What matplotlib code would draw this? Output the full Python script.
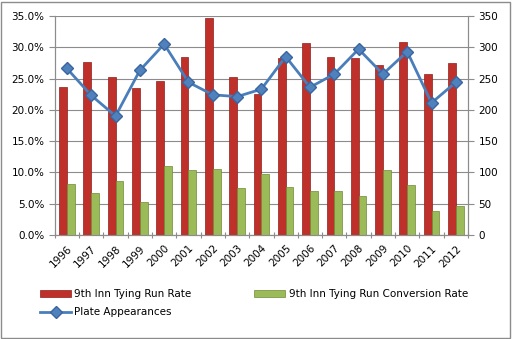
import matplotlib
matplotlib.use("Agg")
import matplotlib.pyplot as plt
import numpy as np
from matplotlib.patches import Rectangle
from matplotlib.ticker import FuncFormatter, MultipleLocator

years = [str(y) for y in range(1996, 2013)]
tying_rate = [23.6, 27.6, 25.2, 23.5, 24.6, 28.5, 34.6, 25.2, 22.6, 28.3,
              30.6, 28.4, 28.3, 27.1, 30.8, 25.7, 27.5]
conversion_rate = [8.1, 6.7, 8.6, 5.2, 11.0, 10.4, 10.5, 7.5, 9.8, 7.7,
                   7.1, 7.0, 6.2, 10.4, 8.0, 3.8, 4.6]
plate_appearances = [266, 223, 190, 263, 305, 244, 224, 221, 233, 285,
                     236, 257, 297, 257, 293, 211, 244]

plt.rcParams['font.family'] = ['DejaVu Sans']
fs = 7.5

fig = plt.figure(figsize=(5.12, 3.39), dpi=100)
fig.patches.append(Rectangle((0.002, 0.003), 0.994, 0.992, transform=fig.transFigure,
                             fill=False, edgecolor='#8c8c8c', linewidth=1))
ax = fig.add_axes([0.107, 0.307, 0.807, 0.646])
ax2 = ax.twinx()

x = np.arange(len(years))
w = 0.32
red_bars = ax.bar(x - w / 2, tying_rate, w, color='#c0302b', edgecolor='#8e1f1b',
                  linewidth=0.5, label='9th Inn Tying Run Rate', zorder=3)
green_bars = ax.bar(x + w / 2, conversion_rate, w, color='#9bbb59', edgecolor='#6f8b35',
                    linewidth=0.5, label='9th Inn Tying Run Conversion Rate', zorder=3)
line, = ax2.plot(x, plate_appearances, color='#4a7ebb', linewidth=2, marker='D',
                 markersize=6, markerfacecolor='#4f81bd', markeredgecolor='#3a65a0',
                 label='Plate Appearances', zorder=4)

ax.set_xlim(-0.5, len(years) - 0.5)
ax.set_ylim(0, 35)
ax2.set_ylim(0, 350)
ax.yaxis.set_major_locator(MultipleLocator(5))
ax.yaxis.set_major_formatter(FuncFormatter(lambda v, p: f"{v:.1f}%"))
ax2.yaxis.set_major_locator(MultipleLocator(50))
ax.grid(axis='y', color='#8c8c8c', linewidth=0.8, zorder=0)
ax.set_axisbelow(True)

ax.set_xticks(np.arange(-0.5, len(years), 1), minor=False)
ax.set_xticklabels([])
ax.set_xticks(x, minor=True)
ax.set_xticklabels(years, minor=True, rotation=45, ha='right', rotation_mode='anchor',
                   fontsize=fs)
ax.tick_params(axis='x', which='minor', length=0, pad=6)
ax.tick_params(axis='x', which='major', length=4, direction='inout', color='#8c8c8c')
ax.tick_params(axis='y', labelsize=fs, length=4, color='#8c8c8c')
ax2.tick_params(axis='y', labelsize=fs, length=4, color='#8c8c8c')

for a in (ax, ax2):
    a.spines['top'].set_visible(False)
    for s in ('left', 'right', 'bottom'):
        a.spines[s].set_color('#8c8c8c')

fig.legend([red_bars, line, green_bars],
           ['9th Inn Tying Run Rate', 'Plate Appearances', '9th Inn Tying Run Conversion Rate'],
           ncol=2, loc='upper left', bbox_to_anchor=(0.07, 0.16), frameon=False,
           fontsize=fs, handlelength=3, handletextpad=0.3, columnspacing=6,
           labelspacing=0.8, borderaxespad=0)

fig.savefig('out.png', dpi=100)
